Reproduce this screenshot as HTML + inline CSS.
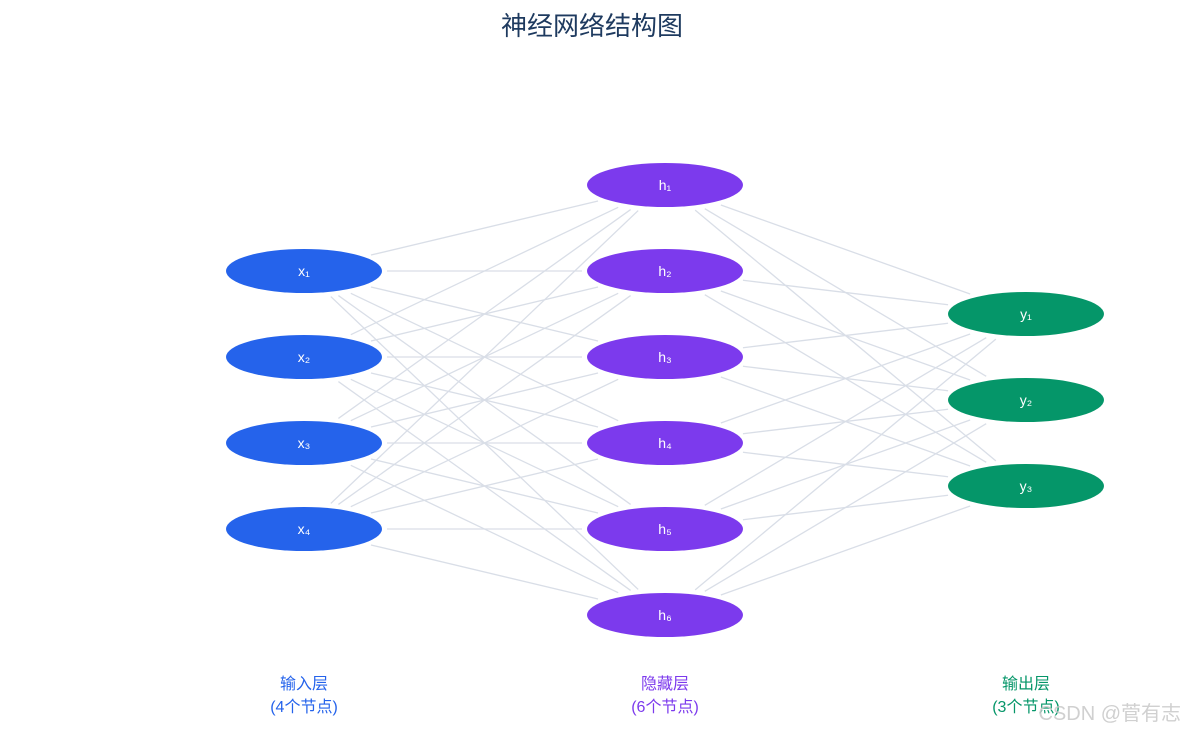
<!DOCTYPE html>
<html><head><meta charset="utf-8">
<style>
body{margin:0;background:#fff;width:1185px;height:732px;overflow:hidden;}
svg{display:block}
</style></head>
<body>
<svg id="s" width="1185" height="732" xmlns="http://www.w3.org/2000/svg" font-family="Liberation Sans, Noto Sans CJK SC, sans-serif">
<text x="592" y="35" text-anchor="middle" font-size="26" fill="#1e3a5f" font-family="Liberation Sans, Noto Sans CJK SC, sans-serif">神经网络结构图</text>
<g id="lines" stroke="#d9dee7" stroke-width="1.3"></g>
<g id="nodes"></g>
<g font-size="16" text-anchor="middle" font-family="Liberation Sans, Noto Sans CJK SC, sans-serif">
<text x="304" y="689" fill="#2563eb">输入层</text>
<text x="304" y="712" fill="#2563eb">(4个节点)</text>
<text x="665" y="689" fill="#7c3aed">隐藏层</text>
<text x="665" y="712" fill="#7c3aed">(6个节点)</text>
<text x="1026" y="689" fill="#059669">输出层</text>
<text x="1026" y="712" fill="#059669">(3个节点)</text>
</g>
<text x="1181" y="720" text-anchor="end" font-size="20" fill="#c8c8c8" opacity="0.85">CSDN @菅有志</text>
</svg>
<script>
var NS="http://www.w3.org/2000/svg";
var L=[{x:304,ys:[271,357,443,529],c:"#2563eb",n:"x"},{x:665,ys:[185,271,357,443,529,615],c:"#7c3aed",n:"h"},{x:1026,ys:[314,400,486],c:"#059669",n:"y"}];
var sub=["₁","₂","₃","₄","₅","₆"];
var lg=document.getElementById("lines"),ng=document.getElementById("nodes");
function clip(dx,dy){var t=1/Math.sqrt((dx/83)*(dx/83)+(dy/27)*(dy/27));return t;}
for(var l=0;l<2;l++){var A=L[l],B=L[l+1];
 A.ys.forEach(function(ya){B.ys.forEach(function(yb){
  var dx=B.x-A.x,dy=yb-ya,t=clip(dx,dy);
  var e=document.createElementNS(NS,"line");
  e.setAttribute("x1",A.x+dx*t);e.setAttribute("y1",ya+dy*t);
  e.setAttribute("x2",B.x-dx*t);e.setAttribute("y2",yb-dy*t);
  lg.appendChild(e);});});}
L.forEach(function(A){A.ys.forEach(function(y,i){
 var e=document.createElementNS(NS,"ellipse");
 e.setAttribute("cx",A.x);e.setAttribute("cy",y);e.setAttribute("rx",78);e.setAttribute("ry",22);e.setAttribute("fill",A.c);ng.appendChild(e);
 var t=document.createElementNS(NS,"text");
 t.setAttribute("x",A.x);t.setAttribute("y",y+5);t.setAttribute("text-anchor","middle");t.setAttribute("font-size","14");t.setAttribute("fill","#fff");
 t.textContent=A.n+sub[i];ng.appendChild(t);});});
</script>
</body></html>
